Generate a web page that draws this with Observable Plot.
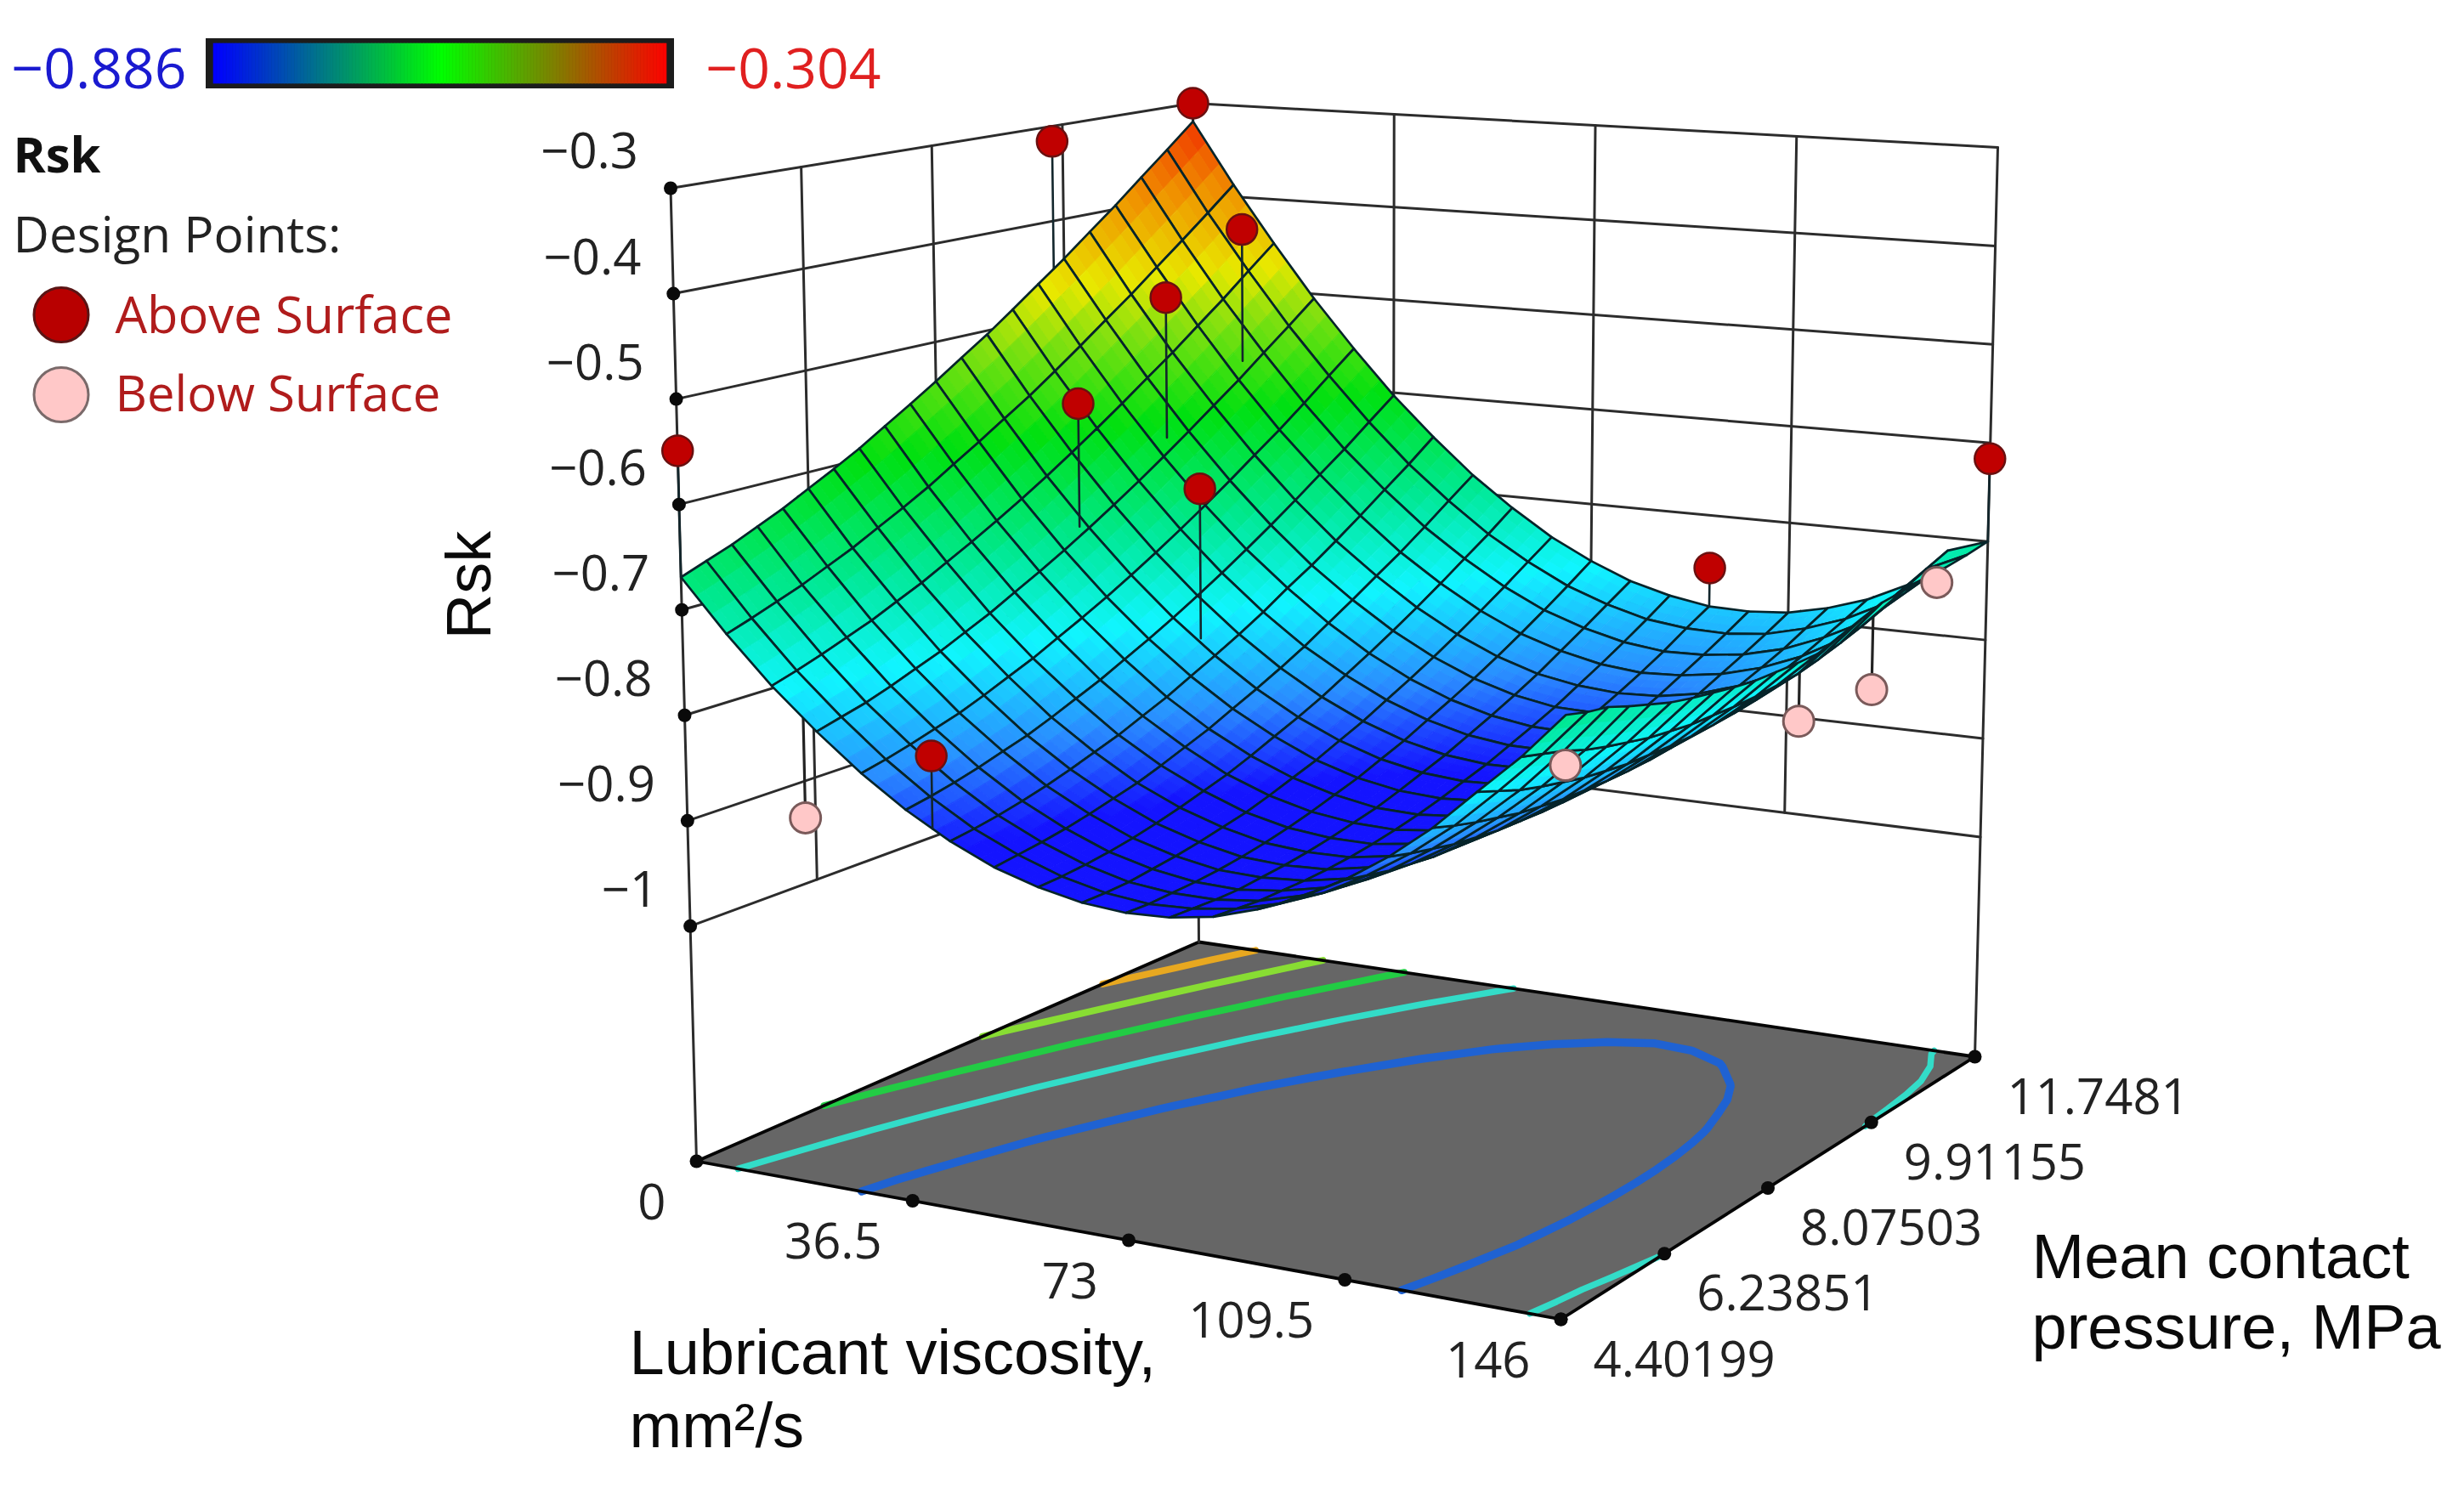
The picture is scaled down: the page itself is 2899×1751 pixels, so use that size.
<!DOCTYPE html>
<html>
<head>
<meta charset="utf-8">
<script src="https://cdn.jsdelivr.net/npm/d3@7"></script>
<script src="https://cdn.jsdelivr.net/npm/@observablehq/plot@0.6"></script>
<style>
html,body{margin:0;padding:0;background:#fff}
svg{display:block;filter:blur(0.7px)}
</style>
</head>
<body>
<div id="chart"></div>
<script>
// ---------- data ----------
const viscosityTicks = [0, 36.5, 73, 109.5, 146];
const pressureTicks = [4.40199, 6.23851, 8.07503, 9.91155, 11.7481];
const pressureTickLabels = ["4.40199", "6.23851", "8.07503", "9.91155", "11.7481"];
const rskTicks = [-0.3, -0.4, -0.5, -0.6, -0.7, -0.8, -0.9, -1];
const rskLegendRange = [-0.886, -0.304];
const contourLevels = [-0.824, -0.715, -0.615, -0.515, -0.415];
const contourColors = ["#1f62d2", "#33dcc8", "#22cc44", "#88dd33", "#e8a820"];

// Rsk over the 21 x 21 mesh: rows run along pressure, columns along viscosity
const rskSurface = [
[-.669,-.717,-.760,-.797,-.830,-.858,-.881,-.899,-.911,-.919,-.922,-.920,-.913,-.900,-.883,-.861,-.834,-.802,-.764,-.727,-.684],
[-.660,-.709,-.753,-.791,-.825,-.854,-.878,-.896,-.910,-.919,-.923,-.921,-.915,-.904,-.888,-.866,-.840,-.809,-.772,-.733,-.690],
[-.651,-.700,-.745,-.785,-.819,-.849,-.874,-.893,-.908,-.918,-.922,-.922,-.917,-.906,-.891,-.871,-.845,-.815,-.780,-.739,-.694],
[-.640,-.691,-.736,-.777,-.812,-.843,-.869,-.889,-.905,-.915,-.921,-.922,-.917,-.908,-.894,-.874,-.850,-.820,-.786,-.747,-.702],
[-.629,-.680,-.727,-.768,-.805,-.836,-.863,-.884,-.901,-.912,-.919,-.920,-.917,-.909,-.895,-.877,-.853,-.825,-.791,-.753,-.709],
[-.616,-.669,-.716,-.759,-.796,-.829,-.856,-.878,-.896,-.908,-.916,-.918,-.916,-.908,-.896,-.878,-.856,-.828,-.796,-.758,-.716],
[-.603,-.656,-.705,-.748,-.786,-.820,-.848,-.872,-.890,-.903,-.912,-.915,-.914,-.907,-.895,-.879,-.857,-.831,-.799,-.763,-.721],
[-.589,-.643,-.692,-.737,-.776,-.810,-.840,-.864,-.883,-.898,-.907,-.911,-.911,-.905,-.894,-.879,-.858,-.832,-.802,-.766,-.725],
[-.573,-.629,-.679,-.724,-.764,-.800,-.830,-.855,-.876,-.891,-.901,-.906,-.907,-.902,-.892,-.878,-.858,-.833,-.803,-.769,-.729],
[-.557,-.613,-.665,-.711,-.752,-.788,-.820,-.846,-.867,-.883,-.894,-.901,-.902,-.898,-.889,-.875,-.857,-.833,-.804,-.770,-.732],
[-.540,-.597,-.650,-.697,-.739,-.776,-.808,-.835,-.857,-.875,-.887,-.894,-.896,-.893,-.885,-.873,-.855,-.832,-.804,-.771,-.733],
[-.522,-.580,-.634,-.682,-.725,-.763,-.796,-.824,-.847,-.865,-.878,-.886,-.889,-.887,-.881,-.869,-.852,-.830,-.803,-.771,-.734],
[-.504,-.563,-.617,-.666,-.710,-.749,-.783,-.812,-.836,-.855,-.869,-.878,-.882,-.881,-.875,-.864,-.848,-.827,-.801,-.770,-.734],
[-.484,-.544,-.599,-.649,-.694,-.734,-.769,-.799,-.823,-.843,-.858,-.868,-.873,-.873,-.868,-.858,-.843,-.823,-.798,-.768,-.727],
[-.463,-.524,-.580,-.631,-.677,-.718,-.753,-.784,-.810,-.831,-.847,-.858,-.864,-.865,-.861,-.852,-.837,-.818,-.794,-.763,-.720],
[-.442,-.503,-.560,-.612,-.659,-.701,-.738,-.769,-.796,-.818,-.835,-.847,-.854,-.855,-.852,-.844,-.831,-.813,-.790,-.757,-.713],
[-.419,-.482,-.540,-.592,-.640,-.683,-.721,-.753,-.781,-.804,-.822,-.835,-.842,-.845,-.843,-.836,-.823,-.806,-.784,-.750,-.711],
[-.396,-.459,-.518,-.572,-.621,-.664,-.703,-.737,-.765,-.789,-.808,-.821,-.830,-.834,-.832,-.826,-.815,-.799,-.777,-.742,-.709],
[-.371,-.436,-.496,-.550,-.600,-.645,-.684,-.719,-.748,-.773,-.793,-.807,-.817,-.822,-.821,-.816,-.806,-.790,-.770,-.732,-.707],
[-.346,-.412,-.472,-.528,-.578,-.624,-.665,-.700,-.731,-.756,-.777,-.792,-.803,-.808,-.809,-.805,-.795,-.781,-.761,-.722,-.704],
[-.320,-.387,-.448,-.505,-.556,-.603,-.644,-.681,-.712,-.739,-.760,-.777,-.788,-.795,-.796,-.793,-.784,-.771,-.752,-.713,-.700]
];

// design points: viscosity, pressure, Rsk
const aboveViscosity = [0, 0, 21.1, 20.7, 20.8, 40.9, 40.9, 0, 146, 94.9];
const abovePressure = [11.7481, 9.765, 8.369, 9.691, 10.793, 8.479, 4.40199, 4.40199, 11.7481, 11.7481];
const aboveRsk = [-0.30, -0.316, -0.555, -0.469, -0.415, -0.631, -0.804, -0.549, -0.616, -0.755];
const belowViscosity = [0, 146, 111.8, 125.2, 146];
const belowPressure = [6.092, 4.40199, 11.7481, 11.7481, 10.867];
const belowRsk = [-0.936, -0.729, -0.904, -0.863, -0.718];

// ---------- view: where the box corners land on the page ----------
const rskFloor = -1.223, rskTop = -0.3;
const viewFloor = {L:[819,1366], F:[1836,1552], R:[2323,1243], B:[1410,1108]};
const viewTop   = {L:[788.5,221], F:[1846,334], R:[2350,173], B:[1403,121]};
const W = 2899, H = 1751;

const uOf = d3.scaleLinear([0,146],[0,1]);
const vOf = d3.scaleLinear([4.40199,11.7481],[0,1]);
const tOf = d3.scaleLinear([rskFloor,rskTop],[0,1]);
function quad(c,u,v,k){
  return c.L[k]*(1-u)*(1-v)+c.F[k]*u*(1-v)+c.R[k]*u*v+c.B[k]*(1-u)*v;
}
function proj(u,v,z){
  const t = tOf(z);
  return {
    x: quad(viewFloor,u,v,0)*(1-t)+quad(viewTop,u,v,0)*t,
    y: quad(viewFloor,u,v,1)*(1-t)+quad(viewTop,u,v,1)*t
  };
}
function surfaceAt(u,v){
  const fi=Math.min(u*20,19.9999), fj=Math.min(v*20,19.9999);
  const i=Math.floor(fi), j=Math.floor(fj), a=fi-i, b=fj-j;
  return rskSurface[j][i]*(1-a)*(1-b)+rskSurface[j][i+1]*a*(1-b)+rskSurface[j+1][i]*(1-a)*b+rskSurface[j+1][i+1]*a*b;
}

// surface colour scale through Plot
const surfaceColor = Plot.scale({color:{
  type:"linear",
  domain:[-0.886,-0.835,-0.765,-0.69,-0.60,-0.52,-0.47,-0.39,-0.32],
  range:["#1414ff","#2a8cff","#10f5ff","#00e890","#00e010","#80e010","#e8e800","#f09000","#f03000"],
  interpolate:"rgb", clamp:true
}});

// ---------- surface as painter-ordered polygons ----------
const meshRows = [];
let gid = 0;
const SUB = 3;
function pushPoly(pts,fill,stroke,sw){
  const id = gid++;
  for(const p of pts) meshRows.push({x:p.x,y:p.y,id,fill,stroke,sw});
}
for(let j=19;j>=0;j--){
  for(let i=0;i<20;i++){
    const z00=rskSurface[j][i], z10=rskSurface[j][i+1], z01=rskSurface[j+1][i], z11=rskSurface[j+1][i+1];
    const zAt=(a,b)=>z00*(1-a)*(1-b)+z10*a*(1-b)+z01*(1-a)*b+z11*a*b;
    const pt=(a,b)=>proj((i+a)/20,(j+b)/20,zAt(a,b));
    for(let sb=SUB-1;sb>=0;sb--){
      for(let sa=0;sa<SUB;sa++){
        const a0=sa/SUB,a1=(sa+1)/SUB,b0=sb/SUB,b1=(sb+1)/SUB;
        const col=surfaceColor.apply(zAt((a0+a1)/2,(b0+b1)/2));
        pushPoly([pt(a0,b0),pt(a1,b0),pt(a1,b1),pt(a0,b1)],col,col,1);
      }
    }
    pushPoly([pt(0,0),pt(1,0),pt(1,1),pt(0,1)],"none","#06242a",2.7);
  }
}

// ---------- floor contours ----------
const flat = rskSurface.flat();
const contourRows = [];
d3.contours().size([21,21]).smooth(true).thresholds(contourLevels)(flat).forEach(g=>{
  const idx = contourLevels.indexOf(g.value);
  let ringNo = 0;
  for(const poly of g.coordinates) for(const ring0 of poly){
    ringNo++;
    const inside=p=>p[0]>0&&p[0]<21&&p[1]>0&&p[1]<21;
    let ring=ring0.slice(0,-1);
    const k=ring.findIndex(p=>!inside(p));
    if(k>0) ring=ring.slice(k).concat(ring.slice(0,k));
    if(k<0) ring=ring0;
    let run=0;
    for(const p of ring){
      if(!inside(p)){run++;continue;}
      const u=Math.max(0,Math.min(1,(p[0]-.5)/20)), v=Math.max(0,Math.min(1,(p[1]-.5)/20));
      const q=proj(u,v,rskFloor);
      contourRows.push({x:q.x,y:q.y,id:idx+"-"+ringNo+"-"+run,col:contourColors[idx],sw:idx===0?9.5:idx===1?7.5:8});
    }
  }
});

// ---------- box lines ----------
const boxRows=[];
let bid=0;
function seg(a,b,c,d,e,f){
  const p=proj(a,b,c), q=proj(d,e,f), id=bid++;
  boxRows.push({...p,id},{...q,id});
}
for(const z of rskTicks){ seg(0,0,z,0,1,z); seg(0,1,z,1,1,z); }
for(const s of [.25,.5,.75]){ seg(0,s,-1,0,s,rskTop); seg(s,1,-1,s,1,rskTop); }
seg(0,0,rskFloor,0,0,rskTop);
seg(0,1,rskFloor,0,1,rskTop);
seg(1,1,rskFloor,1,1,rskTop);

const floorPoly=[proj(0,0,rskFloor),proj(1,0,rskFloor),proj(1,1,rskFloor),proj(0,1,rskFloor)];
const tickDots=[
  ...rskTicks.map(z=>proj(0,0,z)),
  ...viscosityTicks.map(x=>proj(uOf(x),0,rskFloor)),
  ...pressureTicks.map(p=>proj(1,vOf(p),rskFloor))
];

// ---------- design points and stems ----------
const above=aboveRsk.map((z,i)=>{const u=uOf(aboveViscosity[i]),v=vOf(abovePressure[i]);return {u,v,z,...proj(u,v,z)};});
const below=belowRsk.map((z,i)=>{const u=uOf(belowViscosity[i]),v=vOf(belowPressure[i]);return {u,v,z,...proj(u,v,z)};});
const stems=a=>a.flatMap((d,i)=>{const s=proj(d.u,d.v,surfaceAt(d.u,d.v));return [{x:d.x,y:d.y,id:i},{x:s.x,y:s.y,id:i}];});

// ---------- text ----------
const fsTick=58, oS="Open Sans", aS="Liberation Sans";
const mid=(base,fs)=>base-0.32*fs;
const zLabels=rskTicks.map(z=>({...proj(0,0,z),t:z===-1?"\u22121":"\u2212"+Math.abs(z).toFixed(1)}));
const vLabels=viscosityTicks.map(x=>({...proj(uOf(x),0,rskFloor),t:String(x)}));
const pLabels=pressureTicks.map((p,i)=>({...proj(1,vOf(p),rskFloor),t:pressureTickLabels[i]}));
const legendTexts=[
  {x:13,y:mid(103,66),t:"\u22120.886",c:"#1a1ad0",fs:66},
  {x:830,y:mid(103,66),t:"\u22120.304",c:"#e02020",fs:66},
  {x:15,y:mid(296,58.5),t:"Design Points:",c:"#222",fs:58.5},
  {x:135,y:mid(391,59.5),t:"Above Surface",c:"#b01c1c",fs:59.5},
  {x:135,y:mid(483,58),t:"Below Surface",c:"#b01c1c",fs:58}
];
const titleTexts=[
  {x:740,y:mid(1616,74),t:"Lubricant viscosity,"},
  {x:740,y:mid(1702,74),t:"mm\u00b2/s"},
  {x:2390,y:mid(1503,74),t:"Mean contact"},
  {x:2390,y:mid(1586,74),t:"pressure, MPa"}
];
const legendDots=[
  {x:71.5,y:370,f:"#b80000",s:"#5a1414"},
  {x:71.5,y:464,f:"#ffc8c8",s:"#7a6a6a"}
];
const barSteps=d3.range(0,1,1/140);
const barColor=d3.scaleLinear([0,.5,1],["#0000ff","#00ff00","#ff0000"]);
const barX=d3.scaleLinear([0,1],[251,784]);

const chart=Plot.plot({
  width:W,height:H,margin:0,
  style:{background:"white"},
  x:{domain:[0,W],range:[0,W],axis:null},
  y:{domain:[0,H],range:[0,H],axis:null},
  color:{type:"identity"},
  marks:[
    // floor
    Plot.line(floorPoly,{x:"x",y:"y",fill:"#666666",curve:"linear-closed"}),
    Plot.line(contourRows,{x:"x",y:"y",z:"id",stroke:"col",strokeWidth:"sw",strokeLinejoin:"round"}),
    Plot.line(floorPoly,{x:"x",y:"y",stroke:"#050505",strokeWidth:3.8,curve:"linear-closed"}),
    // walls
    Plot.line(boxRows,{x:"x",y:"y",z:"id",stroke:"#2c2c2c",strokeWidth:3}),
    // stems of points under the surface are hidden by it
    Plot.line(stems(below),{x:"x",y:"y",z:"id",stroke:"#222",strokeWidth:3.2}),
    // surface
    Plot.line(meshRows,{x:"x",y:"y",z:"id",fill:"fill",stroke:"stroke",strokeWidth:"sw",curve:"linear-closed"}),
    // stems above, points
    Plot.line(stems(above),{x:"x",y:"y",z:"id",stroke:"#12262c",strokeWidth:2.6}),
    Plot.dot(tickDots,{x:"x",y:"y",r:8,fill:"#0a0a0a"}),
    Plot.dot(below,{x:"x",y:"y",r:18,fill:"#ffc8c8",stroke:"#7a5a5a",strokeWidth:3}),
    Plot.dot(above,{x:"x",y:"y",r:18,fill:"#c00000",stroke:"#6a1010",strokeWidth:2.5}),
    // tick labels
    Plot.text(zLabels,{x:"x",y:"y",text:"t",textAnchor:"end",dx:-38,dy:-41.6,fontSize:fsTick,fontFamily:oS,fill:"#222"}),
    Plot.text(vLabels,{x:"x",y:"y",text:"t",textAnchor:"end",dx:-36,dy:68-0.32*fsTick,fontSize:fsTick,fontFamily:oS,fill:"#222"}),
    Plot.text(pLabels,{x:"x",y:"y",text:"t",textAnchor:"start",dx:38,dy:67-0.32*fsTick,fontSize:fsTick,fontFamily:oS,fill:"#222"}),
    // axis titles
    Plot.text(titleTexts,{x:"x",y:"y",text:"t",textAnchor:"start",fontSize:74,fontFamily:aS,fill:"#0a0a0a"}),
    Plot.text(["Rsk"],{x:()=>553,y:()=>688,text:d=>d,rotate:-90,fontSize:74,fontFamily:aS,fill:"#0a0a0a"}),
    // colour bar and legend
    Plot.rect([0],{x1:()=>242,x2:()=>793,y1:()=>45,y2:()=>104,fill:"#1c1c1c"}),
    Plot.rect(barSteps,{x1:d=>barX(d),x2:d=>barX(d+1/140),y1:()=>51,y2:()=>98,fill:d=>barColor(d),stroke:d=>barColor(d),strokeWidth:.6}),
    Plot.text(legendTexts,{x:"x",y:"y",text:"t",textAnchor:"start",fill:"c",fontSize:d=>d.fs,fontFamily:oS}),
    Plot.text(["Rsk"],{x:()=>15,y:()=>mid(202,58),text:d=>d,textAnchor:"start",fontSize:58,fontWeight:700,fontFamily:oS,fill:"#111"}),
    Plot.dot(legendDots,{x:"x",y:"y",r:32,fill:"f",stroke:"s",strokeWidth:3})
  ]
});
document.getElementById("chart").appendChild(chart);
</script>
</body>
</html>
